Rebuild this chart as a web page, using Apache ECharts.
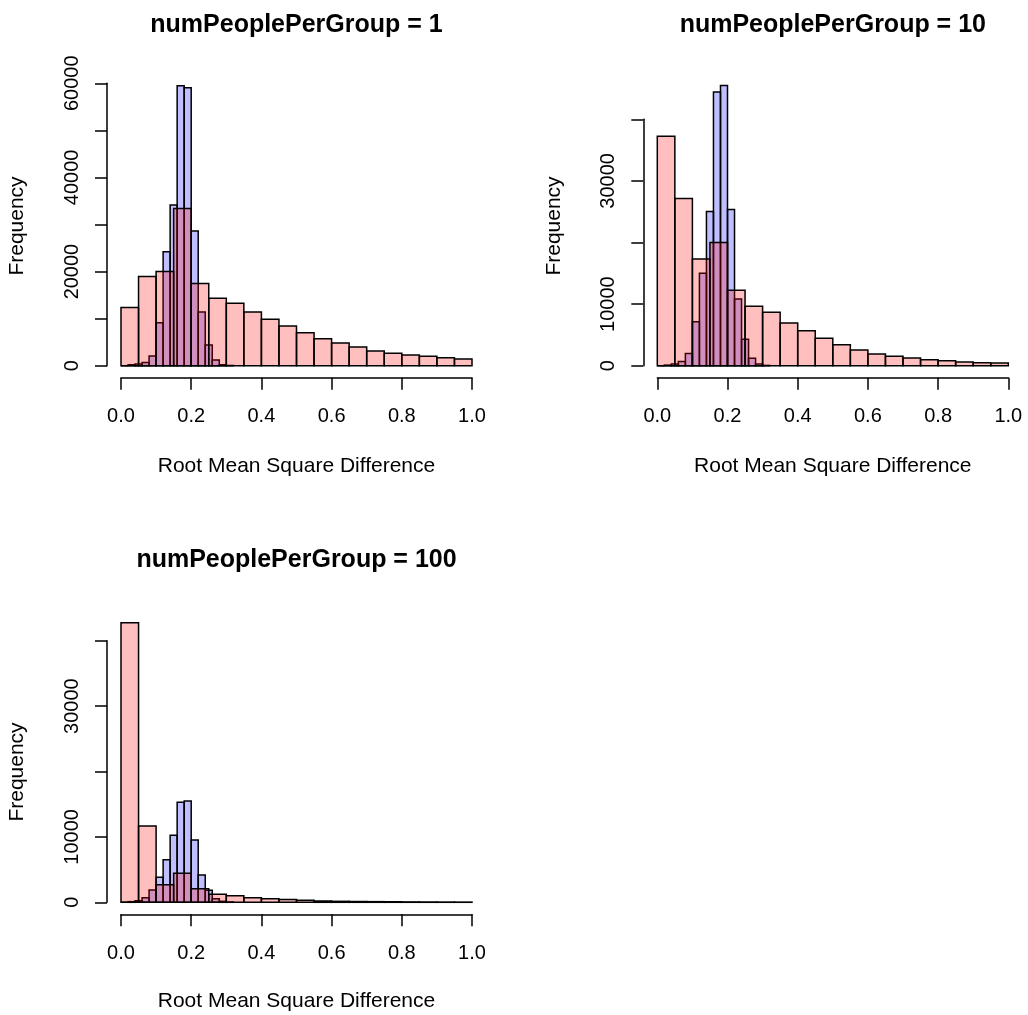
<!DOCTYPE html>
<html>
<head>
<meta charset="utf-8">
<title>Root Mean Square Difference histograms</title>
<script src="https://cdn.jsdelivr.net/npm/echarts@6/dist/echarts.min.js"></script>
<style>
  html, body { margin: 0; padding: 0; background: #fff; }
  #chart { width: 1028px; height: 1015px; }
</style>
</head>
<body>
<div id="chart"></div>
<script>
// bin widths of the two histograms (blue = fine bins, red = coarse bins)
const blueBinWidth = 0.02
const redBinWidth = 0.05

const panelTitles = ['numPeoplePerGroup = 1', 'numPeoplePerGroup = 10', 'numPeoplePerGroup = 100']
const xAxisTitle = 'Root Mean Square Difference'
const yAxisTitle = 'Frequency'
const xTickLabels = ['0.0', '0.2', '0.4', '0.6', '0.8', '1.0']
const yTopTicks = [60000, 40000, 40000]
const yLabelsShown = [
  ['0', '20000', '40000', '60000'],
  ['0', '10000', '30000'],
  ['0', '10000', '30000']
]

// counts per bin, bins start at 0
const blue1 = [0, 200, 350, 700, 2060, 9100, 24200, 34120, 59500, 59080, 28600, 11400, 4400, 1200, 200, 50]
const red1 = [12340, 18940, 20000, 33400, 17450, 14330, 13260, 11420, 9860, 8440, 7020, 5740, 4820, 3970, 3120, 2620, 2270, 1990, 1700, 1420]

const blue10 = [0, 100, 270, 700, 2000, 7150, 15000, 25040, 44440, 45470, 25370, 10840, 4280, 1190, 270, 50]
const red10 = [37240, 27150, 17340, 20000, 12250, 9650, 8670, 6940, 5690, 4440, 3410, 2550, 1900, 1520, 1250, 980, 810, 600, 490, 430]

const blue100 = [0, 100, 250, 700, 1880, 3820, 6520, 10240, 15280, 15490, 9530, 4180, 1830, 560, 150, 50]
const red100 = [42740, 11670, 2700, 4430, 2090, 1220, 1020, 710, 560, 410, 300, 200, 150, 120, 100, 80, 60, 50, 40, 30]

const fontFamily = "'Liberation Sans', Arial, Helvetica, sans-serif"

// pixel layout of the three panels (R mfrow 2x2)
const panels = [
  { left: 121, top: 83.3, height: 282.4, blue: blue1, red: red1, freqX: 17, freqY: 226, titleY: 25.5, xlabY: 466 },
  { left: 657.3, top: 119.3, height: 246.4, blue: blue10, red: red10, freqX: 554, freqY: 226, titleY: 25.5, xlabY: 466 },
  { left: 121, top: 640.7, height: 261.6, blue: blue100, red: red100, freqX: 17, freqY: 772, titleY: 560, xlabY: 1001 }
]
const plotWidth = 351

const toBins = (counts, width) => counts.map((c, i) => [i * width, (i + 1) * width, c])

const makeRender = (fill) => (params, api) => {
  const tl = api.coord([api.value(0), api.value(2)])
  const br = api.coord([api.value(1), 0])
  return {
    type: 'rect',
    shape: { x: tl[0], y: tl[1], width: br[0] - tl[0], height: br[1] - tl[1] },
    style: { fill: fill, stroke: '#000', lineWidth: 1.5 }
  }
}

const axisLine = { show: true, onZero: false, lineStyle: { color: '#000', width: 1.5 } }
const axisTick = { show: true, length: 12, lineStyle: { color: '#000', width: 1.5 } }

const grid = []
const xAxis = []
const yAxis = []
const series = []
const graphic = []

panels.forEach((p, i) => {
  grid.push({ left: p.left, top: p.top, width: plotWidth, height: p.height })
  xAxis.push({
    gridIndex: i,
    type: 'value',
    min: 0,
    max: 1,
    interval: 0.2,
    offset: 12,
    axisLine: axisLine,
    axisTick: axisTick,
    splitLine: { show: false },
    axisLabel: {
      margin: 29,
      fontSize: 20,
      fontFamily: fontFamily,
      color: '#000',
      formatter: (v, idx) => xTickLabels[idx]
    }
  })
  yAxis.push({
    gridIndex: i,
    type: 'value',
    min: 0,
    max: yTopTicks[i],
    interval: 10000,
    offset: 14,
    axisLine: axisLine,
    axisTick: axisTick,
    splitLine: { show: false },
    axisLabel: {
      rotate: 90,
      margin: 25,
      fontSize: 20,
      fontFamily: fontFamily,
      color: '#000',
      formatter: (v) => yLabelsShown[i].includes(String(v)) ? String(v) : ''
    }
  })
  series.push({
    type: 'custom',
    xAxisIndex: i,
    yAxisIndex: i,
    clip: false,
    renderItem: makeRender('rgba(0,0,255,0.25)'),
    data: toBins(p.blue, blueBinWidth)
  })
  series.push({
    type: 'custom',
    xAxisIndex: i,
    yAxisIndex: i,
    clip: false,
    renderItem: makeRender('rgba(255,0,0,0.25)'),
    data: toBins(p.red, redBinWidth)
  })
  const cx = p.left + plotWidth / 2
  graphic.push({
    type: 'text',
    x: cx,
    y: p.titleY,
    style: { text: panelTitles[i], fontSize: 25, fontWeight: 'bold', fontFamily: fontFamily, fill: '#000', align: 'center', verticalAlign: 'middle' }
  })
  graphic.push({
    type: 'text',
    x: cx,
    y: p.xlabY,
    style: { text: xAxisTitle, fontSize: 21, fontFamily: fontFamily, fill: '#000', align: 'center', verticalAlign: 'middle' }
  })
  graphic.push({
    type: 'text',
    x: p.freqX,
    y: p.freqY,
    rotation: Math.PI / 2,
    style: { text: yAxisTitle, fontSize: 21, fontFamily: fontFamily, fill: '#000', align: 'center', verticalAlign: 'middle' }
  })
})

const myChart = echarts.init(document.getElementById('chart'), null, { renderer: 'canvas' })
myChart.setOption({
  animation: false,
  backgroundColor: '#fff',
  grid: grid,
  xAxis: xAxis,
  yAxis: yAxis,
  series: series,
  graphic: graphic
})
window.addEventListener('resize', () => {
  myChart.resize()
})
</script>
</body>
</html>
